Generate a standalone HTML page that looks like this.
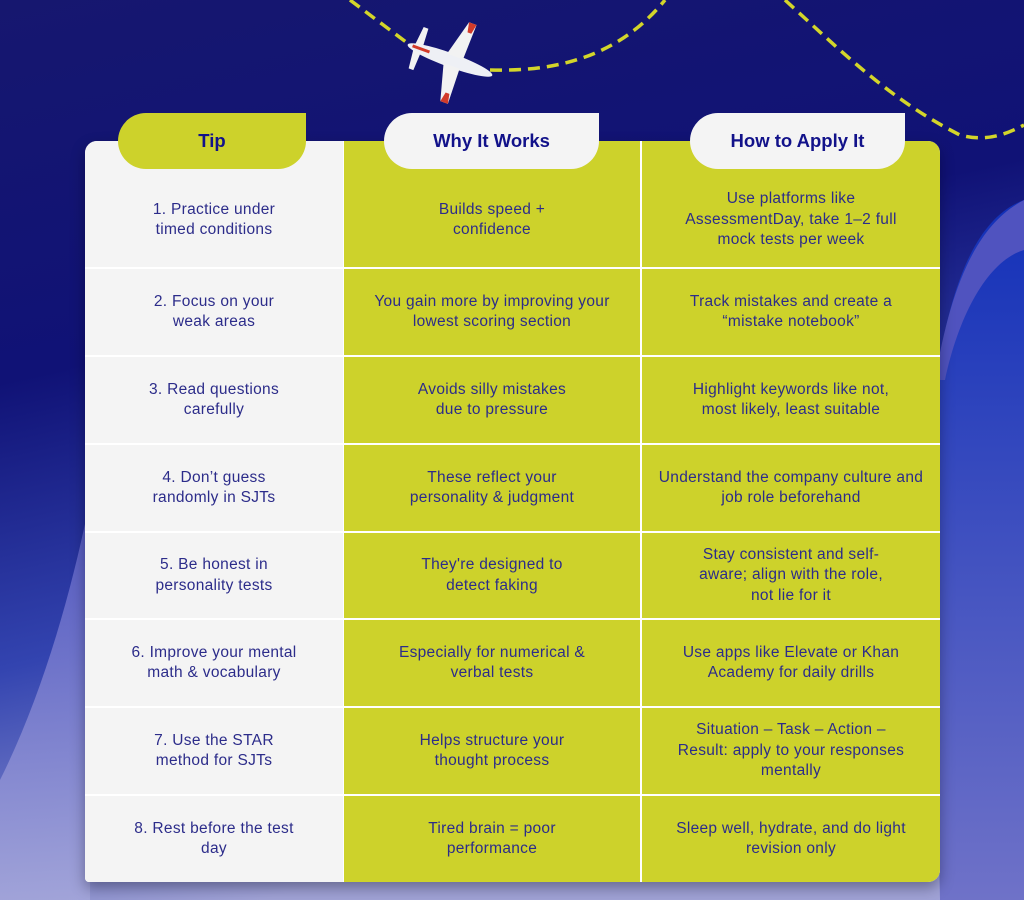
<!DOCTYPE html>
<html><head><meta charset="utf-8"><style>
*{margin:0;padding:0;box-sizing:border-box}
body{width:1024px;height:900px;overflow:hidden;position:relative;font-family:"Liberation Sans",sans-serif;background:#12136e}
svg.bg{position:absolute;left:0;top:0}
.tbl{position:absolute;left:85px;top:141px;width:855px;height:741px;border-radius:12px 12px 12px 4px;overflow:hidden;box-shadow:0 6px 14px rgba(0,0,20,.35);background:#fff}
.cell{position:absolute;display:flex;align-items:center;justify-content:center;text-align:center;font-size:15.5px;letter-spacing:0.3px;line-height:20.5px;color:#2c2c8a}
.r1{padding-top:32px}
.c1{background:#f4f4f4;left:0;width:258px}
.c2{background:#cdd22b;left:259px;width:296px}
.c3{background:#cdd22b;left:557px;width:298px}
.hd{position:absolute;top:113px;height:56px;border-radius:28px 0 28px 28px;display:flex;align-items:center;justify-content:center;font-weight:bold;font-size:18.5px;color:#12128a}
</style></head><body>
<svg class="bg" width="1024" height="900" viewBox="0 0 1024 900">
<defs>
<linearGradient id="g" x1="0" y1="0" x2="0.25" y2="1">
<stop offset="0" stop-color="#16176f"/><stop offset="0.4" stop-color="#101276"/><stop offset="0.7" stop-color="#3344b0"/><stop offset="1" stop-color="#a0a2d6"/></linearGradient>
<linearGradient id="g2" x1="0" y1="0" x2="0" y2="1"><stop offset="0" stop-color="#5a5ec6"/><stop offset="1" stop-color="#a4a6da"/></linearGradient>
<linearGradient id="g3" x1="0" y1="0" x2="0" y2="1"><stop offset="0" stop-color="#1230b8"/><stop offset="1" stop-color="#6f72c8"/></linearGradient>
</defs>
<rect width="1024" height="900" fill="url(#g)"/>
<path d="M1024 200 C970 220 945 300 930 420 L940 900 L1024 900 Z" fill="url(#g3)"/>
<path d="M1024 200 C975 225 950 290 935 380 L945 380 C960 310 990 260 1024 250 Z" fill="#5053bf"/>
<path d="M0 900 L0 780 C40 700 70 600 90 500 L90 900 Z" fill="url(#g2)" opacity="0.85"/>
<path d="M350 0 C370 15 390 30 410 45" stroke="#d3d52a" stroke-width="3.5" fill="none" stroke-dasharray="12 7"/>
<path d="M490 70 C560 72 620 55 665 0" stroke="#d3d52a" stroke-width="3.5" fill="none" stroke-dasharray="12 7"/>
<path d="M785 0 C840 50 890 100 960 135 C985 142 1005 135 1024 125" stroke="#d3d52a" stroke-width="3.5" fill="none" stroke-dasharray="12 7"/>
<g transform="translate(450,60) rotate(20)">
<ellipse cx="0" cy="0" rx="45" ry="7" fill="#eef0f5"/>
<path d="M-5 -5 L5 -42 L13 -42 L12 -5 Z" fill="#f2f2f2"/>
<path d="M-5 5 L5 42 L13 42 L12 5 Z" fill="#f2f2f2"/>
<path d="M5 -42 L13 -42 L11 -32 L7 -32Z M5 42 L13 42 L11 32 L7 32Z" fill="#d23a2a"/>
<path d="M-38 -3 L-36 -22 L-31 -22 L-30 -3Z M-38 3 L-36 22 L-31 22 L-30 3Z" fill="#f2f2f2"/>
<rect x="-40" y="-2" width="18" height="3" fill="#d23a2a"/>
</g>
</svg>
<div class="tbl">
<div class="cell c1 r1" style="top:0;height:126px">1. Practice under<br>timed conditions</div>
<div class="cell c2 r1" style="top:0;height:126px">Builds speed +<br>confidence</div>
<div class="cell c3 r1" style="top:0;height:126px">Use platforms like<br>AssessmentDay, take 1–2 full<br>mock tests per week</div>
<div class="cell c1" style="top:128px;height:86px">2. Focus on your<br>weak areas</div>
<div class="cell c2" style="top:128px;height:86px">You gain more by improving your<br>lowest scoring section</div>
<div class="cell c3" style="top:128px;height:86px">Track mistakes and create a<br>“mistake notebook”</div>
<div class="cell c1" style="top:216px;height:86px">3. Read questions<br>carefully</div>
<div class="cell c2" style="top:216px;height:86px">Avoids silly mistakes<br>due to pressure</div>
<div class="cell c3" style="top:216px;height:86px">Highlight keywords like not,<br>most likely, least suitable</div>
<div class="cell c1" style="top:304px;height:86px">4. Don’t guess<br>randomly in SJTs</div>
<div class="cell c2" style="top:304px;height:86px">These reflect your<br>personality &amp; judgment</div>
<div class="cell c3" style="top:304px;height:86px">Understand the company culture and<br>job role beforehand</div>
<div class="cell c1" style="top:392px;height:85px">5. Be honest in<br>personality tests</div>
<div class="cell c2" style="top:392px;height:85px">They're designed to<br>detect faking</div>
<div class="cell c3" style="top:392px;height:85px">Stay consistent and self-<br>aware; align with the role,<br>not lie for it</div>
<div class="cell c1" style="top:479px;height:86px">6. Improve your mental<br>math &amp; vocabulary</div>
<div class="cell c2" style="top:479px;height:86px">Especially for numerical &amp;<br>verbal tests</div>
<div class="cell c3" style="top:479px;height:86px">Use apps like Elevate or Khan<br>Academy for daily drills</div>
<div class="cell c1" style="top:567px;height:86px">7. Use the STAR<br>method for SJTs</div>
<div class="cell c2" style="top:567px;height:86px">Helps structure your<br>thought process</div>
<div class="cell c3" style="top:567px;height:86px">Situation – Task – Action –<br>Result: apply to your responses<br>mentally</div>
<div class="cell c1" style="top:655px;height:86px">8. Rest before the test<br>day</div>
<div class="cell c2" style="top:655px;height:86px">Tired brain = poor<br>performance</div>
<div class="cell c3" style="top:655px;height:86px">Sleep well, hydrate, and do light<br>revision only</div>
</div>
<div class="hd" style="left:118px;width:188px;background:#cdd22b">Tip</div>
<div class="hd" style="left:384px;width:215px;background:#f4f4f4">Why It Works</div>
<div class="hd" style="left:690px;width:215px;background:#f4f4f4">How to Apply It</div>
</body></html>
